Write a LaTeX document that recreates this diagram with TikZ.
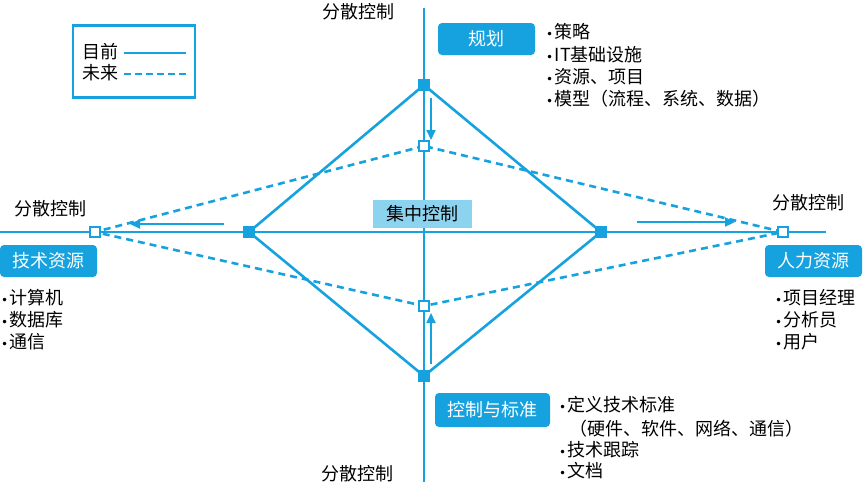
\documentclass[tikz,border=0pt]{standalone}
\usepackage{fontspec}
\setmainfont{Noto Sans CJK SC}
\newfontfamily\dvfont{DejaVu Sans}
\newcommand\bulmark{{\dvfont\fontsize{12}{12}\selectfont •}\kern1.5pt}
\usetikzlibrary{arrows.meta}
\definecolor{mblue}{RGB}{22,162,222}
\definecolor{lblue}{RGB}{140,211,240}
\tikzset{
  axis/.style={draw=mblue,line width=2.6pt},
  cur/.style={draw=mblue,line width=2.6pt},
  fut/.style={draw=mblue,line width=2.6pt,dash pattern=on 7pt off 5pt},
  solidsq/.style={fill=mblue,draw=none,minimum size=12pt,inner sep=0pt},
  hollowsq/.style={fill=white,draw=mblue,line width=1.8pt,minimum size=10pt,inner sep=0pt},
  mover/.style={draw=mblue,line width=2.2pt,-{Triangle[length=10pt,width=9pt]}},
  tag/.style={fill=mblue,text=white,rounded corners=4pt,font=\fontsize{18}{20}\selectfont,inner sep=0pt},
  lbl/.style={font=\fontsize{18}{20}\selectfont,inner sep=0pt,text=black},
  itm/.style={font=\fontsize{18}{20}\selectfont,inner sep=0pt,anchor=west,text=black},
}
\begin{document}
\begin{tikzpicture}[x=1pt,y=-1pt]
\useasboundingbox (0,0) rectangle (865,490);
% axes
\coordinate (vt) at (424,8);
\coordinate (vb) at (424,482);
\coordinate (hl) at (0,232);
\coordinate (hr) at (826,232);
\draw[axis] (vt) -- (vb);
\draw[axis] (hl) -- (hr);
% nodes
\node[solidsq] (T) at (424,85) {};
\node[solidsq] (B) at (424,376) {};
\node[solidsq] (L) at (249,232) {};
\node[solidsq] (R) at (601,232) {};
\node[hollowsq] (t) at (424,146) {};
\node[hollowsq] (b) at (424,306) {};
\node[hollowsq] (l) at (95,232) {};
\node[hollowsq] (r) at (783,232) {};
% future diamond
\draw[fut] (t.center) -- (l.center) -- (b.center) -- (r.center) -- cycle;
% current diamond
\draw[cur] (T.center) -- (L.center) -- (B.center) -- (R.center) -- cycle;
\node[solidsq] at (T) {};
\node[solidsq] at (B) {};
\node[solidsq] at (L) {};
\node[solidsq] at (R) {};
\node[hollowsq] at (t) {};
\node[hollowsq] at (b) {};
\node[hollowsq] at (l) {};
\node[hollowsq] at (r) {};
% movement arrows
\coordinate (a1s) at (431,98); \coordinate (a1e) at (431,140);
\coordinate (a2s) at (431,364); \coordinate (a2e) at (431,313);
\coordinate (a3s) at (224,224); \coordinate (a3e) at (130,224);
\coordinate (a4s) at (637,222); \coordinate (a4e) at (735,222);
\draw[mover] (a1s) -- (a1e);
\draw[mover] (a2s) -- (a2e);
\draw[mover] (a3s) -- (a3e);
\draw[mover] (a4s) -- (a4e);
% center label
\node[fill=lblue,minimum width=99pt,minimum height=28pt,inner sep=0pt,lbl] (cc) at (422.5,214) {集中控制};
% axis end labels
\node[lbl] (dt) at (358,12) {分散控制};
\node[lbl] (db) at (357,474) {分散控制};
\node[lbl] (dl) at (50,209) {分散控制};
\node[lbl] (dr) at (808,203) {分散控制};
% legend
\node[draw=mblue,line width=2.2pt,minimum width=122pt,minimum height=72pt,inner sep=0pt] (leg) at (134,61.5) {};
\node[lbl,anchor=west] (lg1) at (82,52) {目前};
\node[lbl,anchor=west] (lg2) at (82,73) {未来};
\coordinate (lg1a) at (124,53); \coordinate (lg1b) at (186,53);
\coordinate (lg2a) at (124,74); \coordinate (lg2b) at (186,74);
\draw[cur] (lg1a) -- (lg1b);
\draw[fut,dash pattern=on 7pt off 4pt] (lg2a) -- (lg2b);
% tags
\node[tag,minimum width=97pt,minimum height=32pt] (gh) at (486.5,39) {规划};
\node[tag,minimum width=97pt,minimum height=32pt] (js) at (48.5,261) {技术资源};
\node[tag,minimum width=97pt,minimum height=32pt] (rl) at (813.5,261) {人力资源};
\node[tag,minimum width=115pt,minimum height=34pt] (kz) at (492.5,410) {控制与标准};
% planning items
\node[itm] (p1) at (546,32) {\bulmark 策略};
\node[itm] (p2) at (546,55) {\bulmark IT基础设施};
\node[itm] (p3) at (546,77) {\bulmark 资源、项目};
\node[itm] (p4) at (546,99) {\bulmark 模型（流程、系统、数据）};
% tech items
\node[itm] (j1) at (1,298) {\bulmark 计算机};
\node[itm] (j2) at (1,320) {\bulmark 数据库};
\node[itm] (j3) at (1,342) {\bulmark 通信};
% human items
\node[itm] (r1) at (775,298) {\bulmark 项目经理};
\node[itm] (r2) at (775,320) {\bulmark 分析员};
\node[itm] (r3) at (775,342) {\bulmark 用户};
% control items
\node[itm] (k1) at (559,405) {\bulmark 定义技术标准};
\node[itm] (k2) at (569,429) {（硬件、软件、网络、通信）};
\node[itm] (k3) at (559,450) {\bulmark 技术跟踪};
\node[itm] (k4) at (559,471) {\bulmark 文档};
\end{tikzpicture}
\end{document}
